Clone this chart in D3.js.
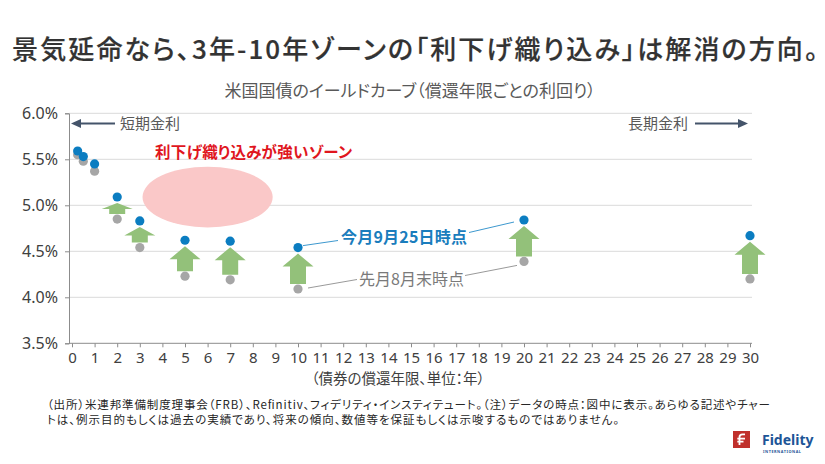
<!DOCTYPE html>
<html>
<head>
<meta charset="utf-8">
<script src="https://cdn.jsdelivr.net/npm/d3@7"></script>
<style>
  body { margin: 0; background: #fff; }
  svg text { font-family: "Noto Sans CJK JP", "Noto Sans", sans-serif; font-feature-settings: "palt"; }
</style>
</head>
<body>
<svg id="chart" width="825" height="464"></svg>
<script>
// maturities in years, yields in %
const maturities = [0.25, 0.5, 1, 2, 3, 5, 7, 10, 20, 30];
const yieldsSep25 = [5.59, 5.53, 5.45, 5.09, 4.83, 4.62, 4.61, 4.54, 4.84, 4.67];
const yieldsAugEnd = [5.55, 5.48, 5.37, 4.85, 4.54, 4.23, 4.19, 4.09, 4.39, 4.2];
const arrowMaturities = [2, 3, 5, 7, 10, 20, 30];
const yTicks = [3.5, 4.0, 4.5, 5.0, 5.5, 6.0];
const xTicks = d3.range(0, 31);

const title = "景気延命なら、3年-10年ゾーンの「利下げ織り込み」は解消の方向。";
const subtitle = "米国国債のイールドカーブ（償還年限ごとの利回り）";
const xTitle = "（債券の償還年限、単位：年）";
const notes = [
  "（出所）米連邦準備制度理事会（FRB）、Refinitiv、フィデリティ・インスティテュート。（注）データの時点：図中に表示。あらゆる記述やチャー",
  "トは、例示目的もしくは過去の実績であり、将来の傾向、数値等を保証もしくは示唆するものではありません。"
];

const blue = "#0b7dc1";
const grey = "#a6a6a6";
const green = "#93c17a";
const axisColor = "#8c8c8c";

const svg = d3.select("#chart");

const x = d3.scaleLinear().domain([0, 30]).range([72, 750]);
const y = d3.scaleLinear().domain([3.5, 6.0]).range([343.3, 113.3]);
const axisLeftX = 69;
const axisRightX = 752;

// titles
svg.append("text")
  .attr("x", 12).attr("y", 59)
  .attr("font-size", 26).attr("font-weight", 500)
  .attr("fill", "#333").attr("stroke", "#333").attr("stroke-width", 0.2)
  .attr("textLength", 806).attr("lengthAdjust", "spacing")
  .text(title);

svg.append("text")
  .attr("x", 410).attr("y", 97)
  .attr("text-anchor", "middle")
  .attr("font-size", 17).attr("fill", "#595959")
  .text(subtitle);

// gridlines
svg.append("g")
  .selectAll("line")
  .data(yTicks.filter((d) => d > 3.5))
  .join("line")
  .attr("x1", axisLeftX).attr("x2", axisRightX)
  .attr("y1", (d) => y(d)).attr("y2", (d) => y(d))
  .attr("stroke", "#dadada").attr("stroke-width", 1);

// pink zone
svg.append("ellipse")
  .attr("cx", x(6)).attr("cy", y(5.09))
  .attr("rx", x(8.88) - x(6)).attr("ry", y(4.76) - y(5.09))
  .attr("fill", "#fac8c8");

svg.append("text")
  .attr("x", 155).attr("y", 158)
  .attr("font-size", 15.5).attr("font-weight", 700)
  .attr("fill", "#e0161e")
  .attr("textLength", 197).attr("lengthAdjust", "spacing")
  .text("利下げ織り込みが強いゾーン");

// axes
const yAxis = svg.append("g")
  .attr("transform", `translate(${axisLeftX},0)`)
  .call(d3.axisLeft(y).tickValues(yTicks).tickFormat((d) => d.toFixed(1) + "%").tickSize(4).tickPadding(7));
yAxis.select(".domain").attr("stroke", axisColor);
yAxis.selectAll(".tick line").attr("stroke", axisColor);
yAxis.selectAll(".tick text")
  .attr("font-size", 16).attr("fill", "#404040")
  .style("font-family", "'Noto Sans', sans-serif");

const xAxis = svg.append("g")
  .attr("transform", `translate(0,${y(3.5)})`)
  .call(d3.axisBottom(x).tickValues(xTicks).tickSize(4).tickPadding(5));
xAxis.select(".domain").remove();
xAxis.append("line")
  .attr("x1", axisLeftX).attr("x2", axisRightX)
  .attr("stroke", axisColor);
xAxis.selectAll(".tick line").attr("stroke", axisColor);
xAxis.selectAll(".tick text")
  .attr("font-size", 15).attr("fill", "#404040")
  .style("font-family", "'Noto Sans', sans-serif");

svg.append("text")
  .attr("x", 398).attr("y", 384)
  .attr("text-anchor", "middle")
  .attr("font-size", 14.5).attr("fill", "#404040")
  .text(xTitle);

// short/long rate arrows
const arrowColor = "#44546a";
function hArrow(x1, x2, yy) {
  const dir = Math.sign(x2 - x1);
  svg.append("line")
    .attr("x1", x1).attr("x2", x2 - dir * 8)
    .attr("y1", yy).attr("y2", yy)
    .attr("stroke", arrowColor).attr("stroke-width", 2);
  svg.append("path")
    .attr("d", `M${x2},${yy} L${x2 - dir * 10},${yy - 4.5} L${x2 - dir * 10},${yy + 4.5} Z`)
    .attr("fill", arrowColor);
}
hArrow(115, 71, 123.5);
hArrow(695, 748, 123.5);

svg.append("text")
  .attr("x", 120).attr("y", 129)
  .attr("font-size", 15).attr("fill", "#595959")
  .text("短期金利");
svg.append("text")
  .attr("x", 628).attr("y", 129)
  .attr("font-size", 15).attr("fill", "#595959")
  .text("長期金利");

// green up arrows between the two curves
const arrowData = arrowMaturities.map((m) => {
  const i = maturities.indexOf(m);
  return { m, top: yieldsSep25[i], bottom: yieldsAugEnd[i] };
});
svg.append("g")
  .selectAll("path")
  .data(arrowData)
  .join("path")
  .attr("d", (d) => {
    const cx = x(d.m);
    const tip = y(d.top) + 6;
    const base = y(d.bottom) - 5;
    const h = Math.min(13, (base - tip) * 0.55);
    return `M${cx},${tip} L${cx + 15.5},${tip + h} L${cx + 8},${tip + h} L${cx + 8},${base}` +
      ` L${cx - 8},${base} L${cx - 8},${tip + h} L${cx - 15.5},${tip + h} Z`;
  })
  .attr("fill", green);

// leader lines for the labels
const i10 = maturities.indexOf(10);
const i20 = maturities.indexOf(20);
svg.append("polyline")
  .attr("points", `${x(10) + 5},${y(yieldsSep25[i10]) - 2} 338,240.5`)
  .attr("fill", "none").attr("stroke", blue).attr("stroke-width", 0.8);
svg.append("polyline")
  .attr("points", `469,232.5 ${x(20) - 10},${y(yieldsSep25[i20]) + 2}`)
  .attr("fill", "none").attr("stroke", blue).attr("stroke-width", 0.8);
svg.append("polyline")
  .attr("points", `${x(10) + 10},${y(yieldsAugEnd[i10]) - 1} 357,279.5`)
  .attr("fill", "none").attr("stroke", "#7f7f7f").attr("stroke-width", 0.8);
svg.append("polyline")
  .attr("points", `465,275.5 ${x(20) - 7},${y(yieldsAugEnd[i20]) + 4}`)
  .attr("fill", "none").attr("stroke", "#7f7f7f").attr("stroke-width", 0.8);

svg.append("text")
  .attr("x", 341).attr("y", 242.5)
  .attr("font-size", 16).attr("font-weight", 700)
  .attr("fill", "#1a7dbd")
  .attr("textLength", 126).attr("lengthAdjust", "spacing")
  .text("今月9月25日時点");
svg.append("text")
  .attr("x", 359).attr("y", 285)
  .attr("font-size", 16)
  .attr("fill", "#7a7a7a")
  .text("先月8月末時点");

// dots: last month (grey) under this month (blue)
svg.append("g")
  .selectAll("circle")
  .data(maturities)
  .join("circle")
  .attr("cx", (d) => x(d))
  .attr("cy", (d, i) => y(yieldsAugEnd[i]))
  .attr("r", 4.6)
  .attr("fill", grey);

svg.append("g")
  .selectAll("circle")
  .data(maturities)
  .join("circle")
  .attr("cx", (d) => x(d))
  .attr("cy", (d, i) => y(yieldsSep25[i]))
  .attr("r", 4.6)
  .attr("fill", blue);

// footnote
svg.append("g")
  .selectAll("text")
  .data(notes)
  .join("text")
  .attr("x", 47)
  .attr("y", (d, i) => 409 + i * 15)
  .attr("font-size", 11.5)
  .attr("fill", "#262626")
  .attr("textLength", (d, i) => (i === 0 ? 723 : 572))
  .attr("lengthAdjust", "spacing")
  .text((d) => d);

// logo
const logo = svg.append("g").attr("transform", "translate(733,431)");
logo.append("rect").attr("width", 17).attr("height", 17).attr("fill", "#c0302c");
logo.append("path")
  .attr("d", "M6.5,14 L6.5,6 Q6.5,3.3 9.5,3.3 L12,3.3 M4.3,7.6 L12,7.6 M4.3,10.6 L10.5,10.6")
  .attr("fill", "none").attr("stroke", "#fff").attr("stroke-width", 1.8);
logo.append("text")
  .attr("x", 29).attr("y", 14)
  .attr("font-size", 14).attr("font-weight", 700)
  .attr("fill", "#1d5597")
  .style("font-family", "'Noto Sans', sans-serif")
  .text("Fidelity");
logo.append("text")
  .attr("x", 30).attr("y", 21.5)
  .attr("font-size", 3.8).attr("font-weight", 700)
  .attr("fill", "#1d5597")
  .attr("letter-spacing", 0.55)
  .style("font-family", "'Noto Sans', sans-serif")
  .text("INTERNATIONAL");
</script>
</body>
</html>
